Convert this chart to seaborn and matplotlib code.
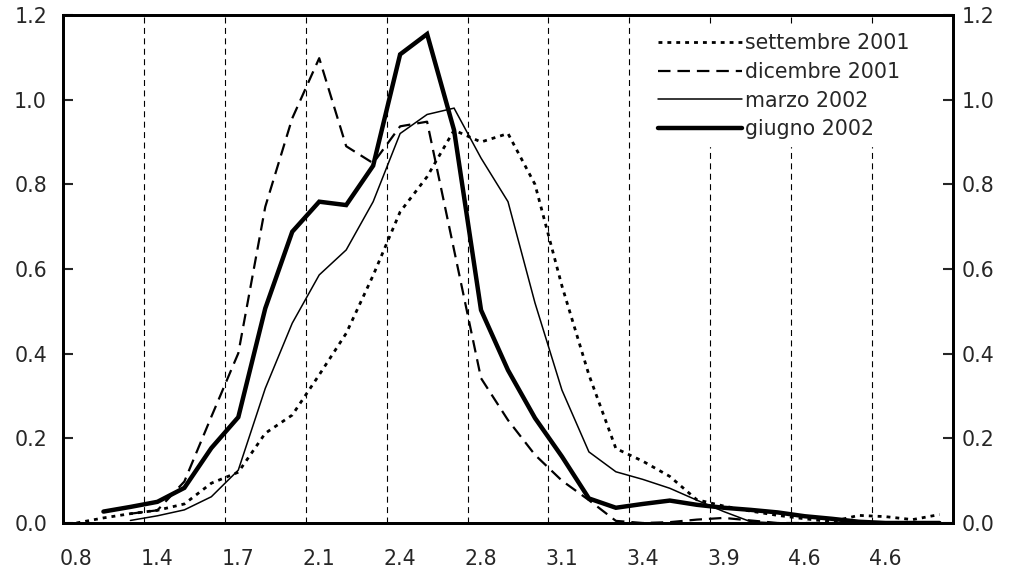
import numpy as np
import pandas as pd
import seaborn as sns
import matplotlib
matplotlib.use("Agg")
import matplotlib.pyplot as plt

nan = np.nan
categories = list(range(33))
tick_labels = ["0.8", "1.4", "1.7", "2.1", "2.4", "2.8", "3.1", "3.4", "3.9", "4.6", "4.6"]

settembre_2001 = [0.0, 0.012, 0.022, 0.030, 0.045, 0.094, 0.120, 0.212, 0.255, 0.350,
                  0.448, 0.585, 0.735, 0.818, 0.928, 0.900, 0.920, 0.800, 0.560, 0.350,
                  0.176, 0.146, 0.110, 0.055, 0.040, 0.028, 0.018, 0.010, 0.003, 0.018,
                  0.015, 0.008, 0.020]
dicembre_2001 = [nan, nan, 0.022, 0.030, 0.098, 0.251, 0.401, 0.747, 0.956, 1.098,
                 0.890, 0.850, 0.937, 0.948, 0.645, 0.342, 0.243, 0.161, 0.100, 0.054,
                 0.005, 0.0, 0.002, 0.008, 0.012, 0.006, 0.0, 0.0, 0.0, 0.0,
                 0.0, 0.0, 0.0]
marzo_2002 = [nan, nan, 0.006, 0.017, 0.031, 0.062, 0.125, 0.318, 0.472, 0.586,
              0.645, 0.759, 0.920, 0.965, 0.980, 0.862, 0.759, 0.520, 0.314, 0.168,
              0.121, 0.103, 0.082, 0.054, 0.027, 0.003, 0.0, 0.0, 0.0, 0.0,
              0.0, 0.0, 0.0]
giugno_2002 = [nan, 0.027, 0.038, 0.050, 0.083, 0.177, 0.250, 0.507, 0.688, 0.759,
               0.751, 0.844, 1.107, 1.155, 0.928, 0.503, 0.361, 0.248, 0.157, 0.058,
               0.036, 0.045, 0.053, 0.043, 0.036, 0.031, 0.025, 0.016, 0.010, 0.003,
               0.0, 0.0, 0.0]

series = {
    "settembre 2001": settembre_2001,
    "dicembre 2001": dicembre_2001,
    "marzo 2002": marzo_2002,
    "giugno 2002": giugno_2002,
}

sns.set_style("white")
plt.rcParams["font.family"] = ["DejaVu Sans"]
plt.rcParams["lines.scale_dashes"] = False

FS = 14.8

fig = plt.figure(figsize=(10.10, 5.69), dpi=100)
ax = fig.add_axes([63 / 1010, 46 / 569, 890 / 1010, 508 / 569])

styles = {
    "settembre 2001": dict(linewidth=2.0, dashes=(2.8, 3.6)),
    "dicembre 2001": dict(linewidth=1.6, dashes=(9.0, 5.0)),
    "marzo 2002": dict(linewidth=1.1, dashes=""),
    "giugno 2002": dict(linewidth=3.2, dashes=""),
}

for name, vals in series.items():
    df = pd.DataFrame({"x": categories, "y": vals}).dropna()
    st = styles[name]
    sns.lineplot(data=df, x="x", y="y", ax=ax, color="black",
                 linewidth=st["linewidth"], label=name, legend=False)
    ln = ax.get_lines()[-1]
    if st["dashes"]:
        ln.set_dashes(st["dashes"])
    ln.set_solid_joinstyle("miter")

if ax.get_legend() is not None:
    ax.get_legend().remove()

ax.set_xlim(-0.5, 32.5)
ax.set_ylim(0, 1.2)
ax.set_xlabel("")
ax.set_ylabel("")

# category labels every third category
label_pos = categories[::3]
ax.set_xticks(label_pos)
ax.set_xticklabels(tick_labels, fontsize=FS)
ax.tick_params(axis="x", which="major", length=0, pad=19)
# boundaries between groups of categories -> gridlines and small ticks
bounds = [c - 0.5 for c in categories[3::3]]
ax.set_xticks(bounds, minor=True)
ax.tick_params(axis="x", which="minor", direction="inout", length=7, width=1.2)
ax.xaxis.grid(True, which="minor", color="black", linewidth=0.8, dashes=(4.3, 3.2))
ax.xaxis.grid(False, which="major")
ax.yaxis.grid(False)

yticks = np.arange(0, 1.21, 0.2)
ax.set_yticks(yticks)
ax.set_yticklabels([f"{v:.1f}" for v in yticks], fontsize=FS)
ax.tick_params(axis="y", direction="in", length=7, width=1.5, pad=11.5, left=True)

ax2 = ax.twinx()
ax2.set_ylim(0, 1.2)
ax2.set_yticks(yticks)
ax2.set_yticklabels([f"{v:.1f}" for v in yticks], fontsize=FS)
ax2.tick_params(axis="y", direction="in", length=7, width=1.5, pad=6.5, right=True)
ax2.grid(False)

for a in (ax, ax2):
    for sp in a.spines.values():
        sp.set_visible(True)
        sp.set_linewidth(2.0)
        sp.set_color("black")

handles, labels = ax.get_legend_handles_labels()
leg = ax2.legend(handles, labels, loc="upper left", bbox_to_anchor=(0.66, 0.978),
                 fontsize=FS, frameon=True, facecolor="white", edgecolor="white",
                 framealpha=1.0, handlelength=4.1, handletextpad=0.15,
                 labelspacing=0.42, borderpad=0.35, borderaxespad=0.0, fancybox=False)

fig.savefig("out.png", dpi=100)
